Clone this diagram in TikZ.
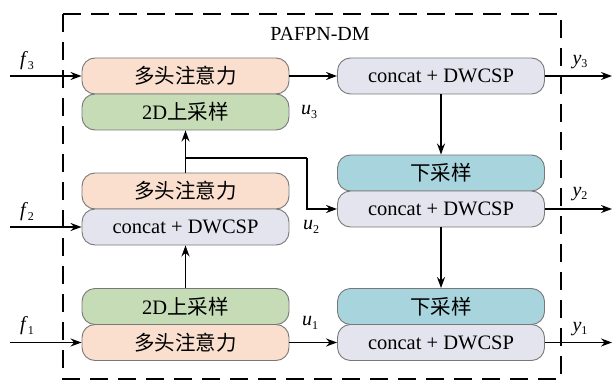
\documentclass[tikz,border=0pt]{standalone}
\usepackage{fontspec}
\setmainfont{Liberation Serif}
\newfontfamily\cjk{Noto Sans CJK SC}
\usetikzlibrary{arrows.meta}
\definecolor{cpeach}{RGB}{250,223,206}
\definecolor{cgreen}{RGB}{198,220,182}
\definecolor{cgrey}{RGB}{228,228,238}
\definecolor{cblue}{RGB}{168,212,221}
\definecolor{cedge}{RGB}{120,120,120}
\newcommand{\vlab}[2]{\textit{#1}\raisebox{-0.35ex}{\fontsize{12}{12}\selectfont #2}}
\begin{document}
\begin{tikzpicture}[x=1pt,y=-1pt,
  blk/.style={draw=cedge,line width=0.9pt,rounded corners=13pt,minimum width=207pt,minimum height=36pt,inner sep=0pt,font=\fontsize{20.5}{22}\selectfont},
  arr/.style={line width=1.5pt,-{Stealth[length=11pt,width=8pt]}},
  lab/.style={font=\fontsize{20}{22}\selectfont,inner sep=0pt}]
\useasboundingbox (0,0) rectangle (612,382);
\draw[line width=2.5pt,dash pattern=on 18pt off 10pt] (63,14) rectangle (561,379);
\node[lab] (title) at (320,34) {PAFPN-DM};
% left column
\node[blk,fill=cpeach] (att3) at (185.5,76) {\cjk 多头注意力};
\node[blk,fill=cgreen] (up3) at (185.5,112) {2D{\cjk 上采样}};
\node[blk,fill=cpeach] (att2) at (185.5,191) {\cjk 多头注意力};
\node[blk,fill=cgrey] (cat2) at (185.5,227) {concat + DWCSP};
\node[blk,fill=cgreen] (up1) at (185.5,306.5) {2D{\cjk 上采样}};
\node[blk,fill=cpeach] (att1) at (185.5,342.5) {\cjk 多头注意力};
% right column
\node[blk,fill=cgrey] (rcat3) at (441,76) {concat + DWCSP};
\node[blk,fill=cblue] (down2) at (441,173) {\cjk 下采样};
\node[blk,fill=cgrey] (rcat2) at (441,209) {concat + DWCSP};
\node[blk,fill=cblue] (down1) at (441,306.5) {\cjk 下采样};
\node[blk,fill=cgrey] (rcat1) at (441,342.5) {concat + DWCSP};
% inputs
\coordinate (in3) at (10,76);
\coordinate (in2) at (10,227);
\coordinate (in1) at (10,342.5);
\draw[arr] (in3) -- (att3.west);
\draw[arr] (in2) -- (cat2.west);
\draw[arr] (in1) -- (att1.west);
\node[lab] (f3) at (27,61) {\vlab{f}{3}};
\node[lab] (f2) at (27,212) {\vlab{f}{2}};
\node[lab] (f1) at (27,326) {\vlab{f}{1}};
% outputs
\coordinate (out3) at (612,76);
\coordinate (out2) at (612,209);
\coordinate (out1) at (612,342.5);
\draw[arr] (rcat3.east) -- (out3);
\draw[arr] (rcat2.east) -- (out2);
\draw[arr] (rcat1.east) -- (out1);
\node[lab] (y3) at (580,62) {\vlab{y}{3}};
\node[lab] (y2) at (580,194) {\vlab{y}{2}};
\node[lab] (y1) at (580,329) {\vlab{y}{1}};
% internal
\draw[arr] (att3.east) -- (rcat3.west);
\draw[arr] (att1.east) -- (rcat1.west);
\draw[arr] (up1.north) -- (cat2.south);
\draw[arr] (att2.north) -- (up3.south);
\coordinate (j) at (185.5,158);
\coordinate (k) at (307,158);
\draw[line width=1.5pt] (j) -- (k);
\draw[arr] (k) |- (rcat2.west);
\draw[arr] (rcat3.south) -- (down2.north);
\draw[arr] (rcat2.south) -- (down1.north);
\node[lab] (u3) at (309,112) {\vlab{u}{3}};
\node[lab] (u2) at (311,227) {\vlab{u}{2}};
\node[lab] (u1) at (310,323) {\vlab{u}{1}};
\end{tikzpicture}
\end{document}
